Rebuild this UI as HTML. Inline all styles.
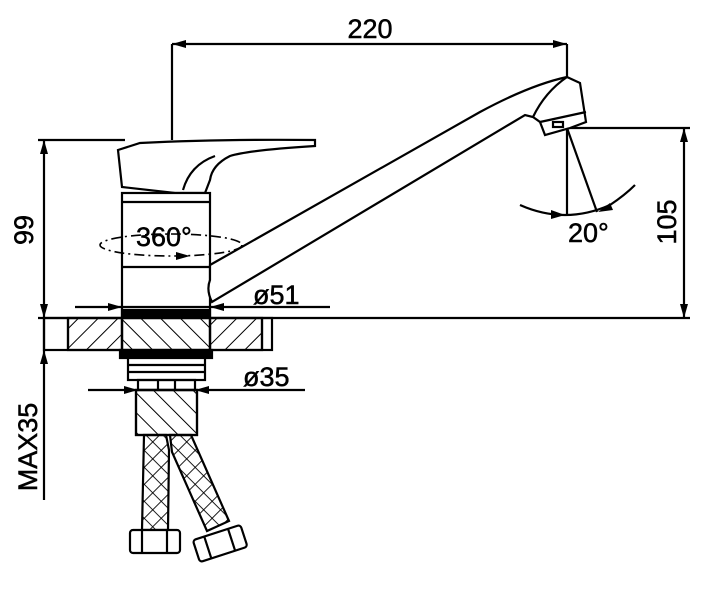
<!DOCTYPE html>
<html><head><meta charset="utf-8"><style>html,body{margin:0;padding:0;background:#fff}svg{display:block}</style></head>
<body>
<svg width="703" height="616" viewBox="0 0 703 616" xmlns="http://www.w3.org/2000/svg" font-family="Liberation Sans, sans-serif">
<defs>
<pattern id="h1" width="14" height="14" patternUnits="userSpaceOnUse" patternTransform="rotate(45)"><line x1="0" y1="0" x2="0" y2="14" stroke="#000" stroke-width="2"/></pattern>
<pattern id="h2" width="14" height="14" patternUnits="userSpaceOnUse" patternTransform="rotate(-45)"><line x1="0" y1="0" x2="0" y2="14" stroke="#000" stroke-width="2"/></pattern>
<pattern id="x1" width="12" height="12" patternUnits="userSpaceOnUse" patternTransform="rotate(45)"><path d="M0 0V12M0 0H12" stroke="#000" stroke-width="1.8" fill="none"/></pattern>
</defs>
<g stroke="#000" stroke-width="2.2" fill="none">
<line x1="172" y1="44" x2="567" y2="44"/>
<line x1="172" y1="44" x2="172" y2="140"/>
<line x1="567" y1="44" x2="567" y2="215"/>
<line x1="38" y1="140" x2="125" y2="140"/>
<line x1="44" y1="140" x2="44" y2="500"/>
<line x1="38" y1="318" x2="690" y2="318"/>
<line x1="565" y1="128" x2="690" y2="128"/>
<line x1="684" y1="128" x2="684" y2="318"/>
<path d="M118 150 L140 143 Q220 139 315 140 L315 146 Q250 150 230 156 Q212 165 210 180 L205 193 L175 193 L122 187 Z" fill="#fff"/>
<path d="M183 190 Q190 165 215 156"/>
<rect x="122" y="193" width="88" height="124" fill="#fff"/>
<line x1="122" y1="202" x2="210" y2="202"/>
<line x1="122" y1="267" x2="210" y2="267"/>
<rect x="122" y="310" width="88" height="7" fill="#000"/>
<ellipse cx="171" cy="245" rx="71" ry="11" stroke-dasharray="10 4 2 4" stroke-width="1.6"/>
<path d="M210 265 L480 112 Q530 85 567 77 L580 83 L586 122 L570 128 L545 135 L540 122 L533 117 L525 115 L212 302 Q206 290 210 280 Z" fill="#fff"/>
<path d="M533 117 Q545 92 567 77 M540 122 L586 112"/>
<rect x="553" y="122" width="10" height="5" fill="#fff"/>
<line x1="567" y1="128" x2="597" y2="212"/>
<path d="M520 205 Q565 225 610 205 Q625 195 635 185"/>
<line x1="75" y1="307" x2="330" y2="307"/>
<rect x="44" y="318" width="228" height="32"/>
<rect x="68" y="318" width="54" height="32" fill="url(#h1)"/>
<rect x="210" y="318" width="52" height="32" fill="url(#h1)"/>
<rect x="122" y="318" width="88" height="32" fill="url(#h2)"/>
<line x1="68" y1="318" x2="68" y2="350"/>
<line x1="262" y1="318" x2="262" y2="350"/>
<line x1="122" y1="318" x2="122" y2="350"/>
<line x1="210" y1="318" x2="210" y2="350"/>
<rect x="120" y="350" width="92" height="8" fill="#000"/>
<rect x="128" y="358" width="77" height="22" fill="#fff"/>
<line x1="128" y1="365" x2="205" y2="365"/><line x1="128" y1="372" x2="205" y2="372"/>
<rect x="138" y="380" width="57" height="10"/>
<line x1="158" y1="380" x2="158" y2="390"/><line x1="175" y1="380" x2="175" y2="390"/>
<line x1="88" y1="390" x2="305" y2="390"/>
<rect x="136" y="390" width="61" height="45" fill="url(#h2)"/>
<rect x="136" y="390" width="61" height="45"/>
<path d="M144 435 L142 530 L168 530 L169 450 L166 435 Z" fill="url(#x1)"/>
<path d="M170 435 L191 435 L229 521 L207 531 L172 452 Z" fill="url(#x1)"/>
<rect x="130" y="530" width="50" height="23" rx="3" fill="#fff"/>
<line x1="142" y1="530" x2="142" y2="553"/><line x1="167" y1="530" x2="167" y2="553"/>
<g transform="rotate(-18 220 543)"><rect x="195" y="532" width="50" height="23" rx="3" fill="#fff"/><line x1="207" y1="532" x2="207" y2="555"/><line x1="232" y1="532" x2="232" y2="555"/></g>
</g>
<g fill="#000">
<path d="M172 44 l14 -4 v8z M567 44 l-14 -4 v8z"/>
<path d="M44 140 l-4 14 h8z M44 318 l-4 -14 h8z M44 350 l-4 14 h8z"/>
<path d="M684 128 l-4 14 h8z M684 318 l-4 -14 h8z"/>
<path d="M122 307 l-14 -4 v8z M210 307 l14 -4 v8z"/>
<path d="M138 390 l-14 -4 v8z M195 390 l14 -4 v8z"/>
<path d="M190 256 l-14 -4 v8z"/>
<path d="M565 215 l-14 -5 v9z M598 212 l12 -9 l3 7z"/>
</g>
<g font-size="27" fill="#000" stroke="#000" stroke-width="0.5">
<text x="370" y="38" text-anchor="middle">220</text>
<text x="136" y="246">360°</text>
<text x="253" y="304">ø51</text>
<text x="243" y="386">ø35</text>
<text x="568" y="242">20°</text>
<text transform="translate(33 230) rotate(-90)" text-anchor="middle">99</text>
<text transform="translate(676 222) rotate(-90)" text-anchor="middle">105</text>
<text transform="translate(37 447) rotate(-90)" text-anchor="middle">MAX35</text>
</g>
</svg>
</body></html>
